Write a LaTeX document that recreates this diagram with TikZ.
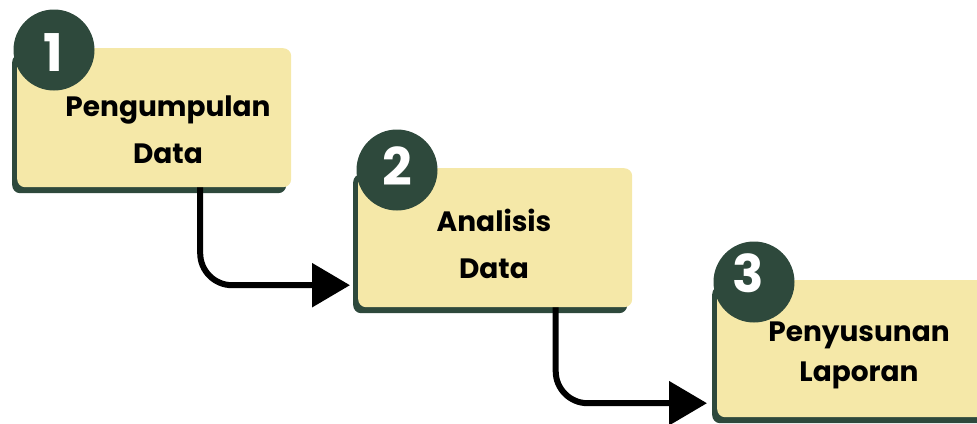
\documentclass[tikz,border=0pt]{standalone}
\usepackage{fontspec}
\setmainfont{Poppins}
\usetikzlibrary{arrows.meta,shadows}
\definecolor{boxyellow}{RGB}{245,232,168}
\definecolor{darkgreen}{RGB}{46,73,60}
\begin{document}
\begin{tikzpicture}[x=1pt,y=-1pt,
  stepbox/.style={fill=boxyellow, rounded corners=8pt, anchor=north west, inner sep=0pt,
    minimum width=274pt, minimum height=139pt,
    drop shadow={shadow xshift=-5pt, shadow yshift=-6pt, fill=darkgreen, opacity=1, shadow scale=1}},
  numcirc/.style={circle, fill=darkgreen, minimum size=81pt, inner sep=0pt},
  numtext/.style={text=white, font=\bfseries\fontsize{52}{52}\selectfont, inner sep=0pt},
  steptext/.style={align=center, font=\bfseries\fontsize{28}{47}\selectfont, inner sep=0pt},
  conn/.style={line width=6pt, rounded corners=32pt, -{Triangle[length=38pt,width=43pt]}}]
\useasboundingbox (0,0) rectangle (977,423);
\clip (0,0) rectangle (977,423);
% boxes
\node[stepbox] (box1) at (17,48) {};
\node[stepbox] (box2) at (358,168) {};
\node[stepbox, minimum width=290pt, minimum height=137pt] (box3) at (717,280) {};
% texts
\node[steptext] (t1) at (168,130) {Pengumpulan\\Data};
\node[steptext] (t2) at (494,244) {Analisis\\Data};
\node[steptext, font=\bfseries\fontsize{28}{40}\selectfont] (t3) at (859,355) {Penyusunan\\Laporan};
% number circles
\node[numcirc] (c1) at (54,50) {};
\node[numcirc] (c2) at (397,170) {};
\node[numcirc] (c3) at (754,282) {};
\node[numtext] (n1) at (53,53) {1};
\node[numtext] (n2) at (397,166) {2};
\node[numtext] (n3) at (748,273) {3};
% connectors
\draw[conn] ([xshift=46pt]box1.south) |- ([yshift=-47.5pt,xshift=-8pt]box2.west);
\draw[conn] ([xshift=60.5pt]box2.south) |- ([yshift=-54.5pt,xshift=-10pt]box3.west);
\end{tikzpicture}
\end{document}
